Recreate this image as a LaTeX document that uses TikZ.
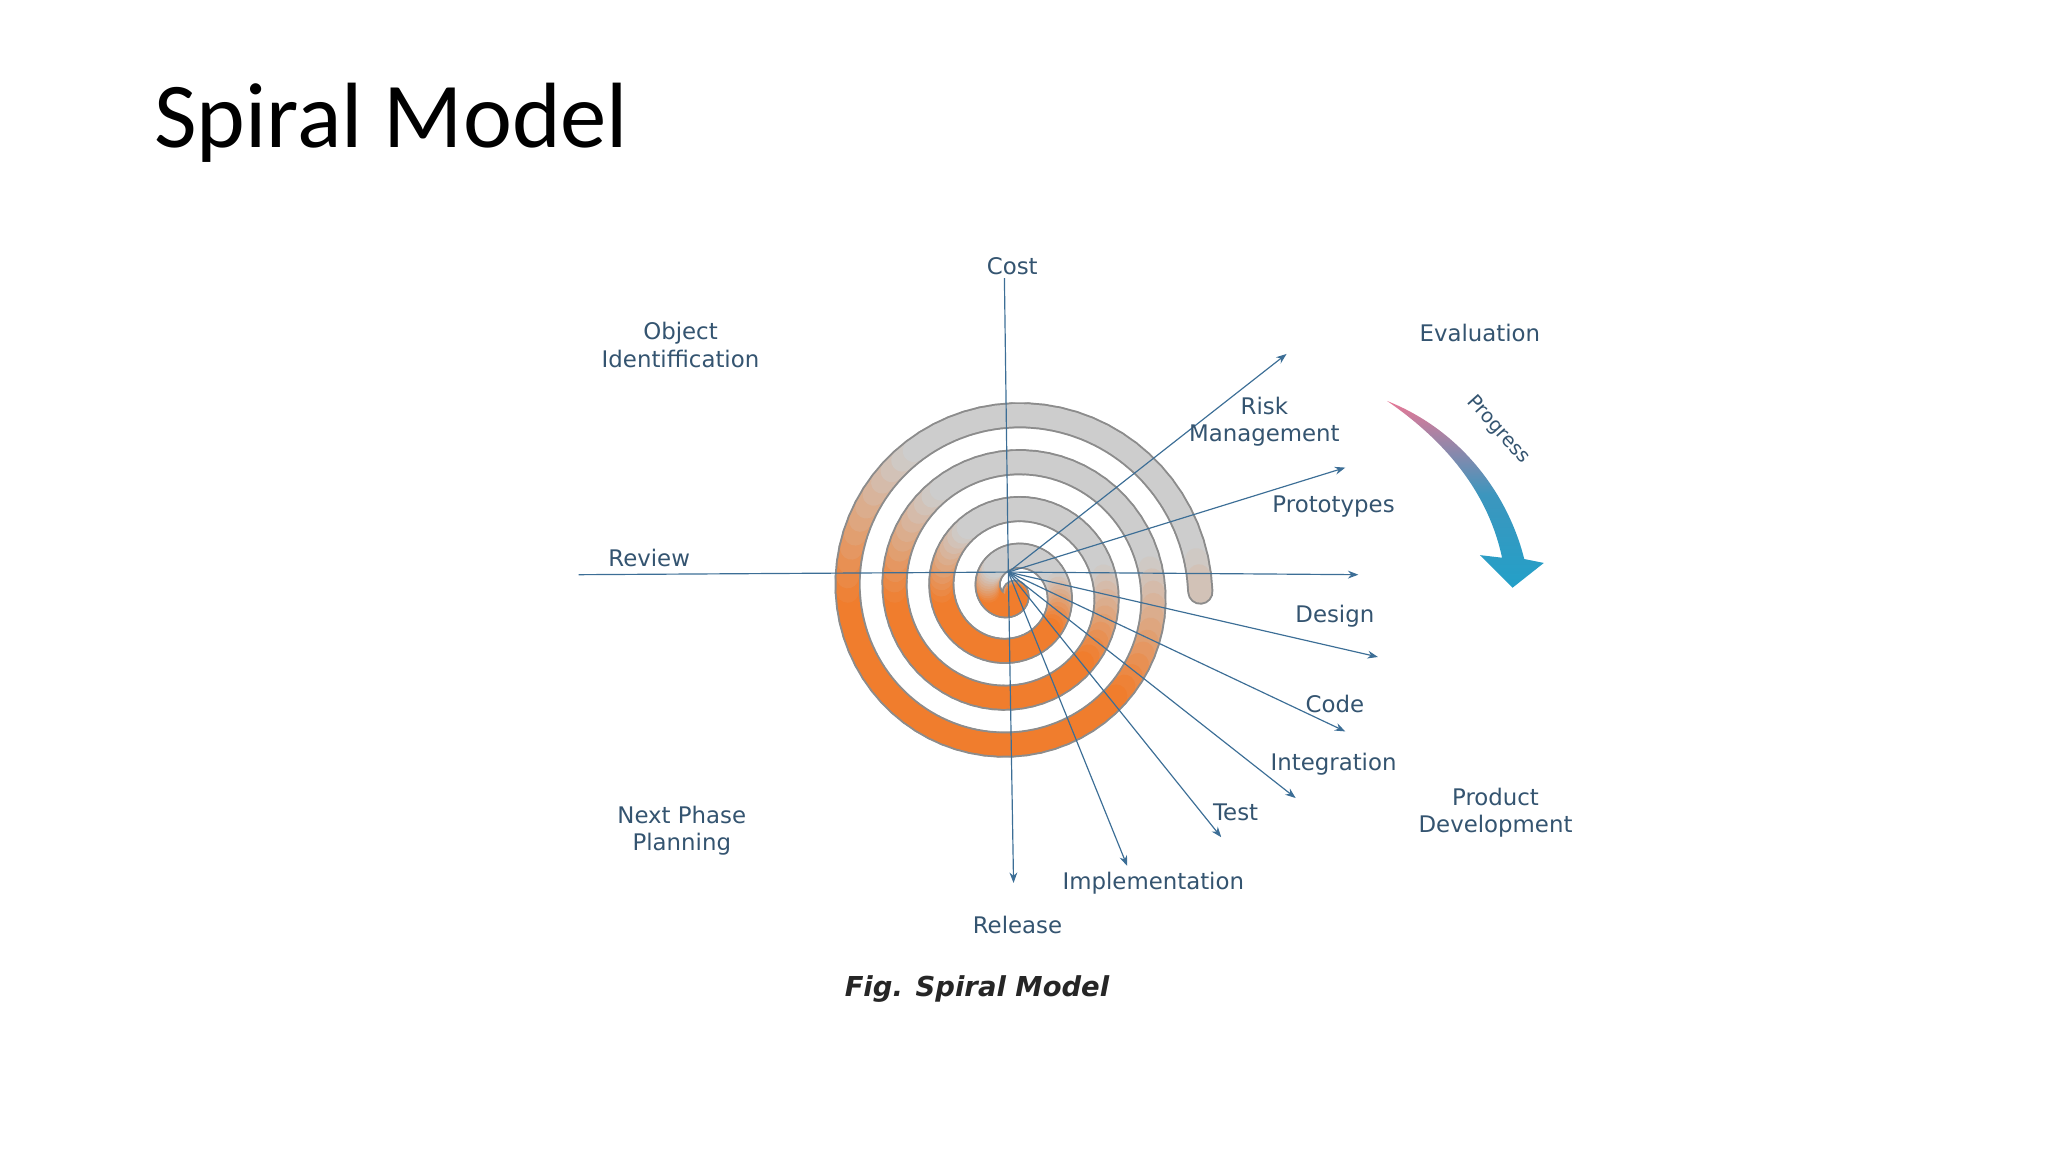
\documentclass[tikz,border=0pt]{standalone}
\usepackage{fontspec}
\setmainfont{DejaVu Sans}
\newfontfamily\titlefont{Carlito}
\usetikzlibrary{arrows.meta}
\definecolor{tx}{RGB}{52,84,112}
\definecolor{ln}{RGB}{60,110,150}
\definecolor{myor}{RGB}{240,125,45}
\definecolor{mygr}{RGB}{205,205,205}
\tikzset{lab/.style={text=tx,font=\fontsize{17.5}{21}\selectfont,align=center,inner sep=1pt},
 ray/.style={draw=ln,line width=0.9pt,-{Stealth[length=8pt,width=6pt]}}}
\begin{document}
\begin{tikzpicture}[x=1pt,y=-1pt]
\useasboundingbox (0,0) rectangle (1568,882);
\node[anchor=base west,font=\titlefont\fontsize{71}{76}\selectfont,inner sep=0] (title) at (118,113) {Spiral Model};
% spiral
\foreach \t in {25,30,...,1440}{
 \pgfmathsetmacro\ta{\t-5}
 \draw[line width=20pt,draw=black!45,line cap=round] ({775+0.1*\ta*cos(-\ta)},{453-0.1*\ta*sin(-\ta)}) -- ({775+0.1*\t*cos(-\t)},{453-0.1*\t*sin(-\t)});
}
\foreach \t in {25,30,...,1440}{
 \pgfmathsetmacro\ta{\t-5}
 \pgfmathsetmacro\w{max(0,min(100,58-105*cos(-\t-65)))}
 \draw[line width=17pt,draw=myor!\w!mygr,line cap=round] ({775+0.1*\ta*cos(-\ta)},{453-0.1*\ta*sin(-\ta)}) -- ({775+0.1*\t*cos(-\t)},{453-0.1*\t*sin(-\t)});
}
\coordinate (c) at (772,438);
\coordinate (ctop) at (769,213);
\coordinate (cbot) at (776,676);
\coordinate (cl) at (443,440);
\coordinate (cr) at (1040,440);
\coordinate (r1) at (985,271);
\coordinate (r2) at (1030,358);
\coordinate (r3) at (1055,503);
\coordinate (r4) at (1030,560);
\coordinate (r5) at (992,611);
\coordinate (r6) at (935,641);
\coordinate (r7) at (863,663);
\draw[draw=ln,line width=0.9pt] (ctop) -- (c);
\draw[ray] (c) -- (cbot);
\draw[draw=ln,line width=0.9pt] (cl) -- (c);
\draw[ray] (c) -- (cr);
\draw[ray] (c) -- (r1);
\draw[ray] (c) -- (r2);
\draw[ray] (c) -- (r3);
\draw[ray] (c) -- (r4);
\draw[ray] (c) -- (r5);
\draw[ray] (c) -- (r6);
\draw[ray] (c) -- (r7);
% progress arrow
\path[top color={rgb,255:red,230;green,120;blue,150},bottom color={rgb,255:red,35;green,160;blue,200},middle color={rgb,255:red,60;green,150;blue,190}]
 (1062,307) .. controls (1120,330) and (1155,380) .. (1167,428) -- (1182,431) -- (1158,450) -- (1133,425) -- (1150,427) .. controls (1140,380) and (1110,340) .. (1062,307) -- cycle;
\node[lab,rotate=-48,font=\fontsize{15}{18}\selectfont] (prog) at (1147,329) {Progress};
% labels
\node[lab] (cost) at (775,204) {Cost};
\node[lab] (obj) at (521,264) {Object\\Identiffication};
\node[lab] (eval) at (1133,255) {Evaluation};
\node[lab] (risk) at (968,323) {Risk\\Management};
\node[lab] (proto) at (1021,388) {Prototypes};
\node[lab] (rev) at (497,427) {Review};
\node[lab] (des) at (1022,472) {Design};
\node[lab] (code) at (1022,539) {Code};
\node[lab] (integ) at (1021,585) {Integration};
\node[lab] (prod) at (1145,622) {Product\\Development};
\node[lab] (next) at (522,636) {Next Phase\\Planning};
\node[lab] (test) at (946,622) {Test};
\node[lab] (impl) at (883,676) {Implementation};
\node[lab] (rel) at (779,708) {Release};
\node[font=\fontsize{21}{25}\selectfont\bfseries\itshape,text=black!85] (fig) at (748,757) {Fig. Spiral Model};
\end{tikzpicture}
\end{document}
